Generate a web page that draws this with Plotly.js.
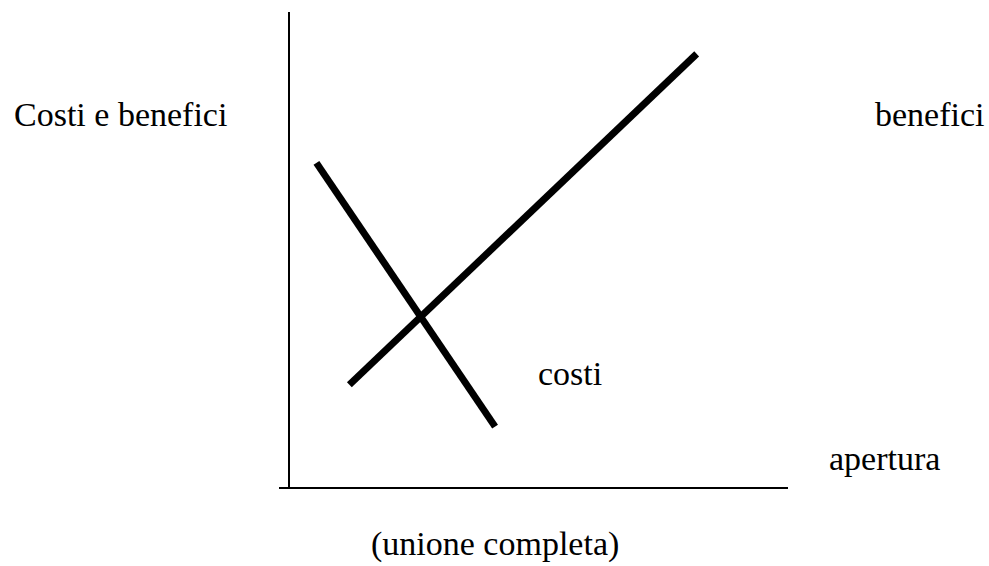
<!DOCTYPE html>
<html>
<head>
<meta charset="utf-8">
<script src="https://cdn.plot.ly/plotly-3.0.1.min.js"></script>
<style>html,body{margin:0;padding:0;background:#fff;}#chart{width:989px;height:566px;}</style>
</head>
<body>
<div id="chart"></div>
<script>
// Data (x = apertura, y = costi e benefici)
const costiX = [0.55, 4.13];
const costiY = [6.83, 1.29];
const beneficiX = [1.21, 8.17];
const beneficiY = [2.17, 9.12];

const lineStyle = {color: '#000', width: 7};
const traces = [
  {x: costiX, y: costiY, mode: 'lines', line: lineStyle, name: 'costi', hoverinfo: 'skip'},
  {x: beneficiX, y: beneficiY, mode: 'lines', line: lineStyle, name: 'benefici', hoverinfo: 'skip'}
];

const font = {family: '"Liberation Serif", "Times New Roman", serif', size: 34, color: '#000'};
function lbl(text, x, y, xanchor) {
  return {text: text, x: x, y: y, xref: 'paper', yref: 'paper', xanchor: xanchor || 'left', yanchor: 'middle', showarrow: false, font: font};
}

const layout = {
  width: 989, height: 566,
  margin: {l: 279, r: 201, t: 12, b: 78, pad: 0},
  paper_bgcolor: '#fff', plot_bgcolor: '#fff',
  showlegend: false,
  xaxis: {range: [-0.2, 10], showgrid: false, showticklabels: false, ticks: '', showline: false,
          zeroline: true, zerolinecolor: '#000', zerolinewidth: 2, fixedrange: true},
  yaxis: {range: [0, 10], showgrid: false, showticklabels: false, ticks: '', showline: false,
          zeroline: true, zerolinecolor: '#000', zerolinewidth: 2, fixedrange: true},
  annotations: [
    lbl('Costi e benefici', -0.5246, 0.7857),
    lbl('benefici', 1.167, 0.7857),
    lbl('costi', 0.5049, 0.2395),
    lbl('apertura', 1.0766, 0.063),
    lbl('(unione completa)', 0.4244, -0.1176, 'center')
  ]
};

Plotly.newPlot('chart', traces, layout, {displayModeBar: false, staticPlot: true});
</script>
</body>
</html>
